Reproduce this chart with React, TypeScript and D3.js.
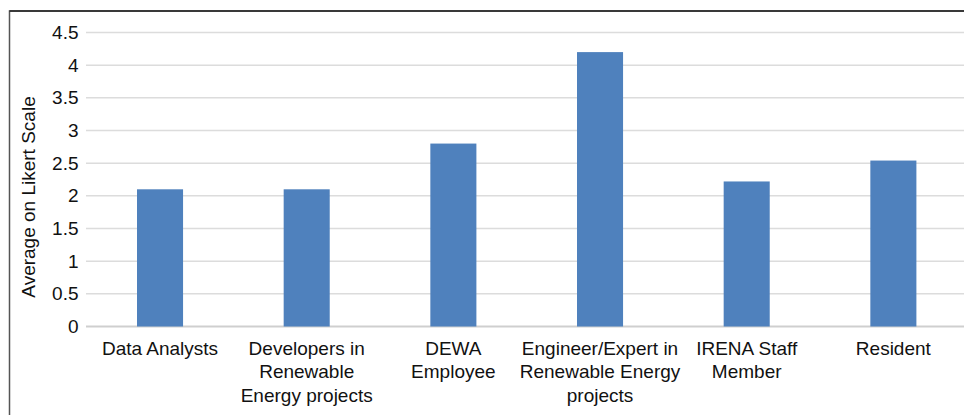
import React from 'react';
import * as d3 from 'd3';

const categories: string[][] = [
    ['Data Analysts'],
    ['Developers in', 'Renewable', 'Energy projects'],
    ['DEWA', 'Employee'],
    ['Engineer/Expert in', 'Renewable Energy', 'projects'],
    ['IRENA Staff', 'Member'],
    ['Resident'],
];
const averages = [2.1, 2.1, 2.8, 4.2, 2.22, 2.54];
const yTicks = [0, 0.5, 1, 1.5, 2, 2.5, 3, 3.5, 4, 4.5];
const yTitle = 'Average on Likert Scale';

const W = 964;
const H = 415;
const font = '"Liberation Sans", Arial, sans-serif';

export default function App() {
    const keys = categories.map((c) => c.join(' '));

    const x = d3.scaleBand<string>()
        .domain(keys)
        .range([86.7, 966.7])
        .paddingInner(0.686)
        .paddingOuter(0.343);

    const y = d3.scaleLinear()
        .domain([0, 4.5])
        .range([326.5, 32.5]);

    return (
        <svg width={W} height={H} style={{ position: 'absolute', left: 0, top: 0, background: '#fff' }}>
            {/* chart frame */}
            <rect x={9.5} y={11} width={W + 20} height={H + 20} fill="#fff" stroke="#555" strokeWidth={1.5} />
            <line x1={9.5} x2={W + 5} y1={11} y2={11} stroke="#222" strokeWidth={1.5} />

            {/* gridlines */}
            {yTicks.map((t) => (
                <line key={t} x1={86} x2={W + 5} y1={y(t)} y2={y(t)}
                    stroke={t === 0 ? '#cfcfcf' : '#dcdcdc'} strokeWidth={t === 0 ? 2 : 1.5} />
            ))}

            {/* y tick labels */}
            {yTicks.map((t) => (
                <text key={'l' + t} x={78.5} y={y(t)} dy="0.35em" textAnchor="end"
                    fontFamily={font} fontSize={19} fill="#111">{t}</text>
            ))}

            {/* y title */}
            <text transform={`translate(35,197) rotate(-90)`} textAnchor="middle"
                fontFamily={font} fontSize={19} fill="#111">{yTitle}</text>

            {/* bars */}
            {averages.map((v, i) => (
                <rect key={keys[i]} x={x(keys[i])} y={y(v)} width={x.bandwidth()}
                    height={y(0) - y(v)} fill="#4f81bd" />
            ))}

            {/* category labels */}
            {categories.map((lines, i) => (
                <text key={'c' + i} textAnchor="middle" fontFamily={font} fontSize={19} fill="#111">
                    {lines.map((ln, j) => (
                        <tspan key={j} x={(x(keys[i]) ?? 0) + x.bandwidth() / 2} y={355 + j * 23.3}>{ln}</tspan>
                    ))}
                </text>
            ))}
        </svg>
    );
}
